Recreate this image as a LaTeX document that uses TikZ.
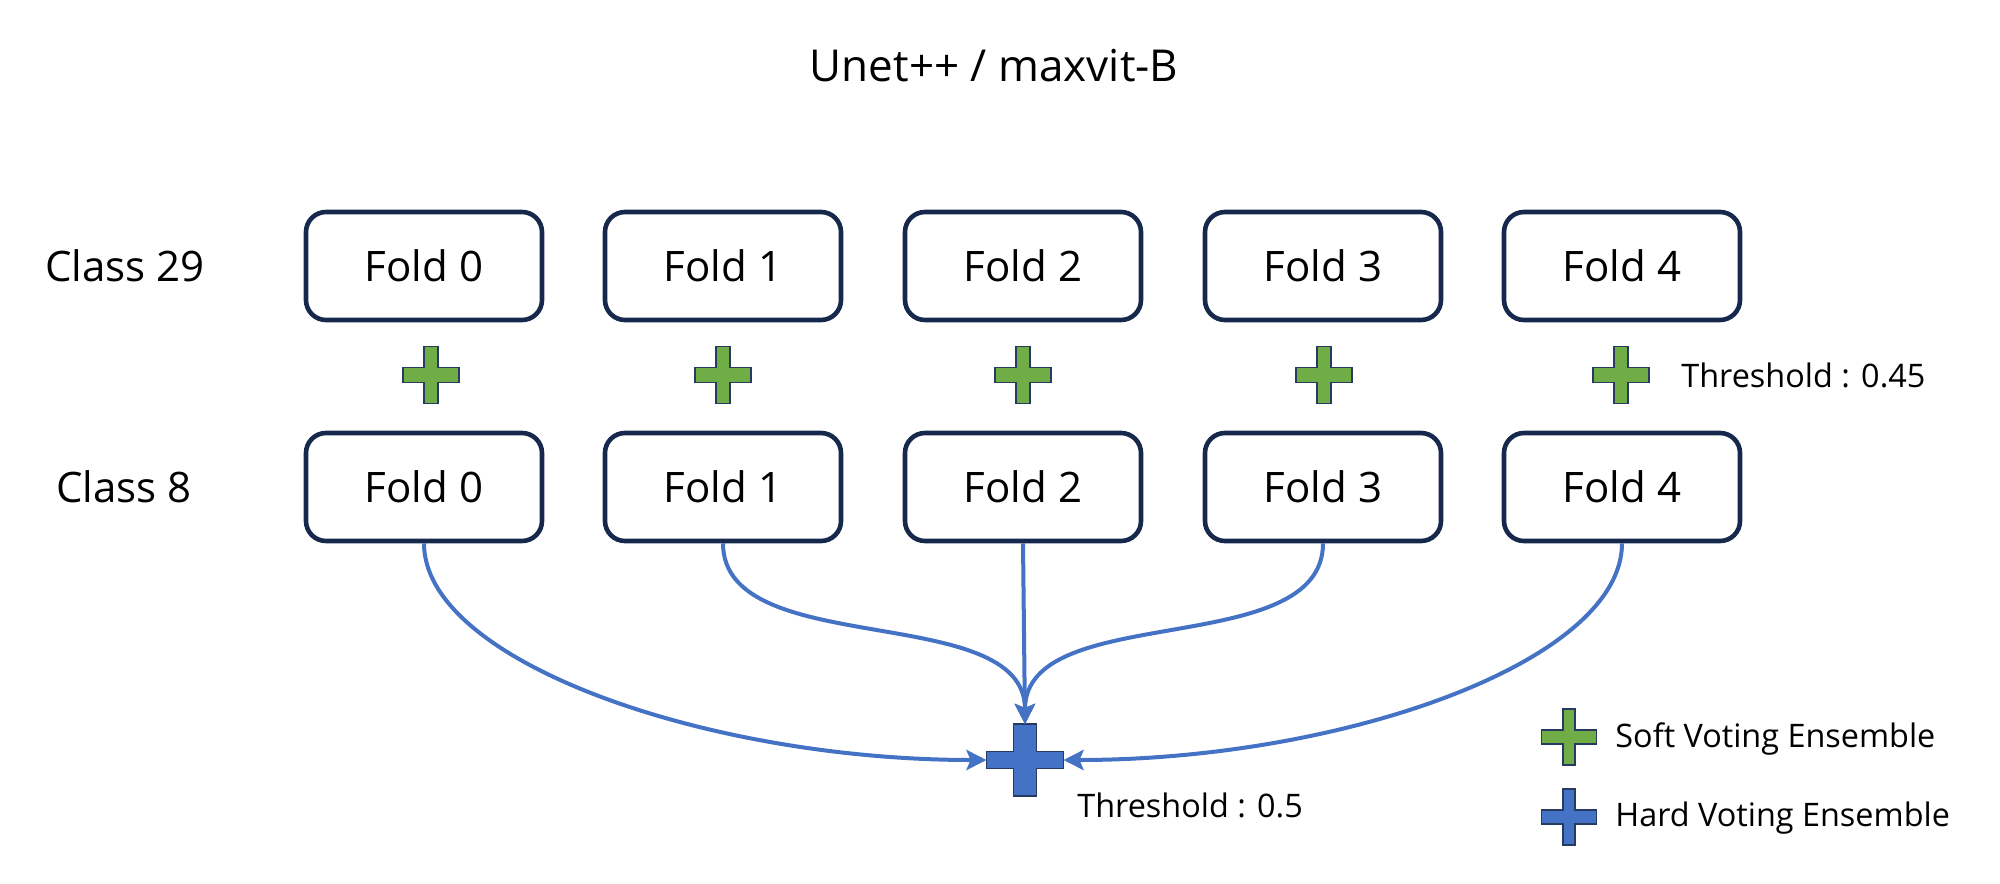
\documentclass[tikz,border=0pt]{standalone}
\usepackage{fontspec}
\setmainfont{Open Sans}
\usetikzlibrary{arrows.meta}
\definecolor{navy}{RGB}{22,40,76}
\definecolor{pgreen}{RGB}{112,173,71}
\definecolor{pblue}{RGB}{68,114,196}
\definecolor{crossedge}{RGB}{38,58,98}
\begin{document}
\begin{tikzpicture}[x=0.5pt,y=-0.5pt,
  fold/.style={draw=navy, line width=2.3pt, rounded corners=10pt, minimum width=118pt, minimum height=54pt, inner sep=0pt, font=\fontsize{21}{25}\selectfont},
  lbl/.style={inner sep=0pt, font=\fontsize{21}{25}\selectfont},
  ttl/.style={inner sep=0pt, font=\fontsize{22}{26}\selectfont},
  small/.style={inner sep=0pt, anchor=west, font=\fontsize{16.2}{19}\selectfont},
  link/.style={draw=pblue, line width=2pt, -{Stealth[length=10pt,width=10pt,inset=2pt]}},
  pics/cross/.style n args={5}{code={
    \path[fill=#5, draw=crossedge, line width=0.6pt]
      (-#3,-#2) -- (#3,-#2) -- (#3,-#4) -- (#1,-#4) -- (#1,#4) -- (#3,#4) -- (#3,#2)
      -- (-#3,#2) -- (-#3,#4) -- (-#1,#4) -- (-#1,-#4) -- (-#3,-#4) -- cycle;
  }}
]
\useasboundingbox (0,0) rectangle (2000,883);

\node[ttl] (title) at (994,66) {Unet++ / maxvit-B};

\node[lbl] (c29) at (125,266) {Class 29};
\node[lbl] (c8) at (124,487) {Class 8};

\foreach \i/\x in {0/424,1/723,2/1023,3/1323,4/1622}{
  \node[fold] (t\i) at (\x,266) {Fold \i};
  \node[fold] (b\i) at (\x,487) {Fold \i};
}

\foreach \x in {431,723,1023,1324,1621}{
  \pic at (\x,375) {cross={28}{28.5}{7}{7.5}{pgreen}};
}
\node[small] (th45) at (1681,375) {Threshold : 0.45};

\node[minimum width=38.5pt, minimum height=36pt, inner sep=0pt, outer sep=0pt] (hv) at (1025,760) {};
\pic at (1025,760) {cross={38.5}{36}{11.5}{8.5}{pblue}};
\node[small] (th5) at (1077,805) {Threshold : 0.5};

\draw[link] (b0.south) .. controls +(0,118) and +(-280,0) .. (hv.west);
\draw[link] (b1.south) .. controls +(0,118) and +(0,-124) .. (hv.north);
\draw[link] (b2.south) -- (hv.north);
\draw[link] (b3.south) .. controls +(0,118) and +(0,-124) .. (hv.north);
\draw[link] (b4.south) .. controls +(0,118) and +(280,0) .. (hv.east);

\pic at (1569,737) {cross={27.5}{28}{6}{7}{pgreen}};
\pic at (1569,817) {cross={27.5}{28}{6}{7}{pblue}};
\node[small] (soft) at (1615,739) {Soft Voting Ensemble};
\node[small] (hard) at (1615,818) {Hard Voting Ensemble};
\end{tikzpicture}
\end{document}
